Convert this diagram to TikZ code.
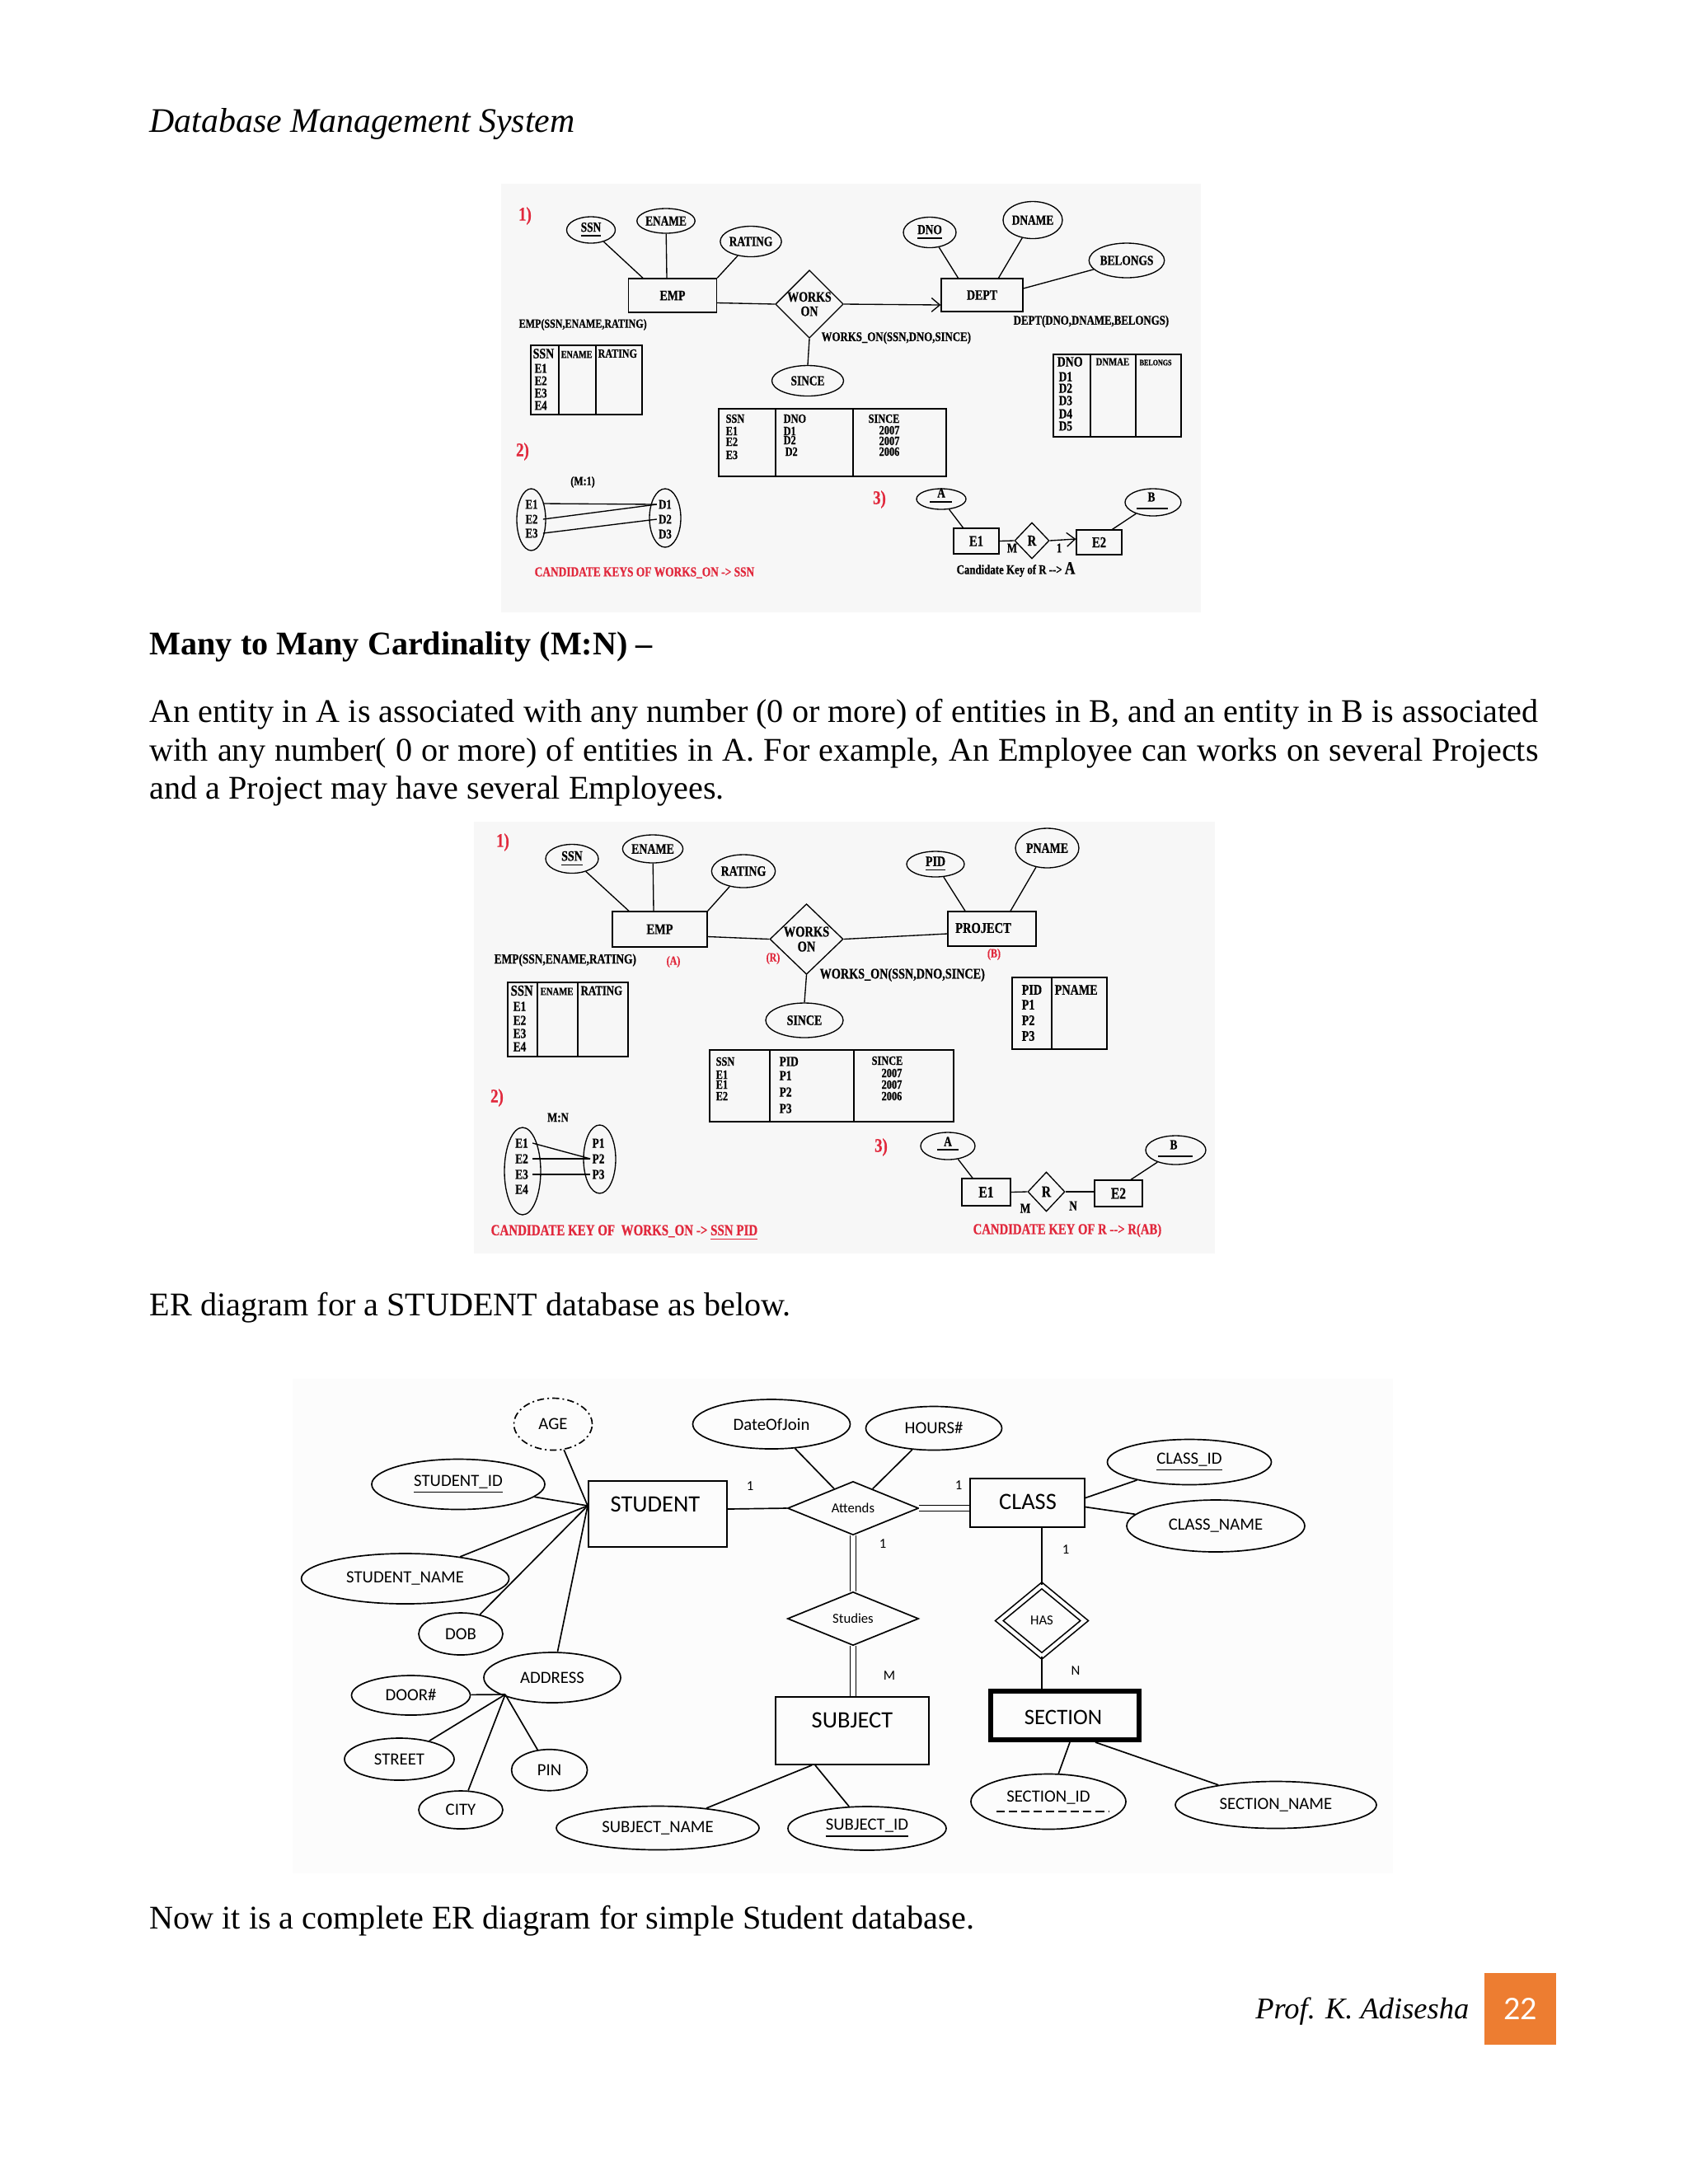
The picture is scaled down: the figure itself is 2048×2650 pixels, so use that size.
\documentclass[tikz,border=0pt]{standalone}
\usepackage{fontspec}
\setmainfont{Liberation Serif}
\newfontfamily\scanf[FakeStretch=0.8,FakeBold=0.6]{Liberation Serif}
\newfontfamily\calf{Carlito}
\usepackage{graphicx}
\usetikzlibrary{shapes.geometric,arrows.meta,calc}
\definecolor{redlab}{RGB}{225,40,60}
\definecolor{orangebox}{RGB}{237,125,49}
\newcommand\pxu{0.298828pt}
\begin{document}
\begin{tikzpicture}[x=0.298828pt, y=-0.298828pt,
 sf/.style={font=\scanf\bfseries\fontsize{#1}{#1}\selectfont},
 cf/.style={font=\calf\fontsize{#1}{#1}\selectfont},
 ell/.style 2 args={ellipse,draw,minimum width=#1*\pxu,minimum height=#2*\pxu,inner sep=0pt},
 box/.style 2 args={rectangle,draw,minimum width=#1*\pxu,minimum height=#2*\pxu,inner sep=0pt},
 dia/.style 2 args={diamond,draw,minimum width=#1*\pxu,minimum height=#2*\pxu,inner sep=0pt},
 ttx/.style={sf=#1,anchor=west,inner sep=0pt},
 lab/.style={sf=#1,inner sep=0.5pt},
 redt/.style={text=redlab},
 num/.style={sf=7,text=redlab,inner sep=0pt},
 barb/.style={-{Straight Barb[length=3pt,width=5pt]}},
 dbl/.style={double,double distance=1.6pt,line width=0.5pt},
 body/.style={anchor=base west,inner sep=0pt,font=\fontsize{12}{14}\selectfont},
 er/.style={line width=0.5pt}
]
\useasboundingbox (0,0) rectangle (2048,2650);
\fill[white] (0,0) rectangle (2048,2650);

% ---------------- page text ----------------
\node[anchor=base west,inner sep=0pt,font=\itshape\fontsize{12.5}{14}\selectfont] (hdr) at (181,160) {Database Management System};
\node[body,font=\bfseries\fontsize{12}{14}\selectfont] (h2) at (181,794) {Many to Many Cardinality (M:N) –};
\node[body] (p1) at (181,876) {\makebox[503.5pt][s]{An entity in A is associated with any number (0 or more) of entities in B, and an entity in B is associated}};
\node[body] (p2) at (181,923) {\makebox[503.5pt][s]{with any number( 0 or more) of entities in A. For example, An Employee can works on several Projects}};
\node[body] (p3) at (181,969) {and a Project may have several Employees.};
\node[body] (p4) at (181,1596) {ER diagram for a STUDENT database as below.};
\node[body] (p5) at (181,2340) {Now it is a complete ER diagram for simple Student database.};
\node[anchor=base east,inner sep=0pt,font=\itshape\fontsize{10.9}{13}\selectfont] (ftr) at (1783,2449) {Prof. K. Adisesha};
\node[fill=orangebox,minimum width=87*\pxu,minimum height=87*\pxu,inner sep=0pt,text=white,font=\calf\fontsize{12}{12}\selectfont] (pg) at (1844.5,2437.5) {22};

% ================= Image 1 (M:1) =================
\fill[black!3] (608,223) rectangle (1457,743);
\node[num] (n1a) at (637,262) {1)};
\node[ell={59}{32},sf=5] (ssnA) at (717,279) {\underline{SSN}};
\node[ell={66}{30},sf=5] (enameA) at (808,268) {ENAME};
\node[ell={66}{37},sf=5] (ratingA) at (911,293) {RATING};
\node[box={107}{41},sf=5.2] (empA) at (816,358.5) {EMP};
\node[dia={82}{78},sf=5.2,align=center] (worksA) at (982,369) {WORKS\\ON};
\node[ell={87}{37},sf=5] (sinceA) at (980,462) {SINCE};
\node[box={99}{40},sf=5.2] (deptA) at (1191.5,358) {DEPT};
\node[ell={64}{37},sf=5] (dnoA) at (1128,282) {\underline{DNO}};
\node[ell={72}{45},sf=5] (dnameA) at (1253,267) {DNAME};
\node[ell={84}{42},sf=5] (belongsA) at (1367,316) {BELONGS};
\draw (ssnA) -- ($(empA.north)+(-36,0)$);
\draw (enameA) -- ($(empA.north)+(-7,0)$);
\draw (ratingA) -- (empA.north east);
\draw ($(empA.east)+(0,9)$) -- (worksA.west);
\draw[barb] (worksA.east) -- ($(deptA.west)+(0,12)$);
\draw (worksA.south) -- (sinceA.north);
\draw (dnoA) -- ($(deptA.north)+(-29,0)$);
\draw (dnameA) -- ($(deptA.north)+(20,0)$);
\draw (belongsA) -- ($(deptA.east)+(0,-8)$);
\node[ttx=4.5] (empschA) at (629,394) {EMP(SSN,ENAME,RATING)};
\node[ttx=4.8] (woschA) at (996,410) {WORKS\_ON(SSN,DNO,SINCE)};
\node[ttx=4.8] (deptschA) at (1229,390) {DEPT(DNO,DNAME,BELONGS)};
% EMP table
\draw (644,419) rectangle (779,503) (678,419) -- (678,503) (723,419) -- (723,503);
\node[ttx=5.2] (ta1) at (646,429) {SSN};
\node[ttx=3.8] (ta2) at (680,430) {ENAME};
\node[ttx=4.5] (ta3) at (725,429) {RATING};
\node[ttx=4.8] (ta4) at (648,447) {E1};
\node[ttx=4.8] (ta5) at (648,462) {E2};
\node[ttx=4.8] (ta6) at (648,477) {E3};
\node[ttx=4.8] (ta7) at (648,492) {E4};
% WORKS_ON table
\draw (872,496) rectangle (1148,578) (941,496) -- (941,578) (1035,496) -- (1035,578);
\node[ttx=4.6] (tb1) at (880,508) {SSN};
\node[ttx=4.6] (tb2) at (880,523) {E1};
\node[ttx=4.6] (tb3) at (880,536) {E2};
\node[ttx=4.6] (tb4) at (880,552) {E3};
\node[ttx=4.6] (tb5) at (950,508) {DNO};
\node[ttx=4.6] (tb6) at (950,523) {D1};
\node[ttx=4.6] (tb7) at (950,534) {D2};
\node[ttx=4.6] (tb8) at (952,548) {D2};
\node[ttx=4.6] (tb9) at (1053,508) {SINCE};
\node[ttx=4.6] (tb10) at (1066,522) {2007};
\node[ttx=4.6] (tb11) at (1066,535) {2007};
\node[ttx=4.6] (tb12) at (1066,548) {2006};
% DEPT table
\draw (1278,430) rectangle (1433,530) (1323,430) -- (1323,530) (1378,430) -- (1378,530);
\node[ttx=5.2] (tc1) at (1282,439) {DNO};
\node[ttx=4] (tc2) at (1329,439) {DNMAE};
\node[ttx=3] (tc3) at (1382,440) {BELONGS};
\node[ttx=5] (tc4) at (1284,457) {D1};
\node[ttx=5] (tc5) at (1284,471) {D2};
\node[ttx=5] (tc6) at (1284,486) {D3};
\node[ttx=5] (tc7) at (1284,502) {D4};
\node[ttx=5] (tc8) at (1284,517) {D5};
% 2)
\node[num] (n2a) at (634,548) {2)};
\node[lab=4.5] (m1) at (707,585) {(M:1)};
\node[ell={35}{75}] (esetA) at (644.5,630.5) {};
\node[ell={38}{71}] (dsetA) at (807,628.5) {};
\node[lab=4.8] (e1s) at (645,612) {E1};
\node[lab=4.8] (e2s) at (645,630) {E2};
\node[lab=4.8] (e3s) at (645,647) {E3};
\node[lab=4.8] (d1s) at (807,612) {D1};
\node[lab=4.8] (d2s) at (807,630) {D2};
\node[lab=4.8] (d3s) at (807,648) {D3};
\draw ($(e1s.east)+(4,-1)$) -- (d1s.west);
\draw ($(e2s.east)+(4,0)$) -- (d1s.west);
\draw ($(e3s.east)+(4,0)$) -- (d2s.west);
\node[ttx=5,redt] (ckA) at (648,695) {CANDIDATE KEYS OF WORKS\_ON {-}> SSN};
% 3)
\node[num] (n3a) at (1067,606) {3)};
\node[ell={60}{25}] (aA) at (1142,605.5) {};
\node[lab=5] (aAt) at (1142,598) {A};
\draw (1128,609) -- (1155,609);
\node[box={55}{31},sf=5.5] (e1A) at (1184.5,656.5) {E1};
\node[dia={42}{44},sf=5.5] (rA) at (1252,656) {R};
\node[box={55}{30},sf=5.5] (e2A) at (1333.5,658) {E2};
\node[ell={68}{33}] (bA) at (1399,609.5) {};
\node[lab=5] (bAt) at (1397,603) {B};
\draw (1379,617) -- (1417,617);
\draw (aA) -- ($(e1A.north)+(-16,0)$);
\draw (bA) -- ($(e2A.north)+(16,0)$);
\draw (e1A.east) -- (rA.west);
\draw[barb] (rA.east) -- ($(e2A.west)+(0,-4)$);
\node[lab=4.8] (mA) at (1228,665) {M};
\node[lab=4.8] (oneA) at (1285,665) {1};
\node[ttx=4.8] (ckA2) at (1160,691) {Candidate Key of R {-}{-}> \fontsize{6.5}{6.5}\selectfont A};

% ================= Image 2 (M:N) =================
\fill[black!3] (575,997) rectangle (1474,1521);
\node[num] (n1b) at (610,1022) {1)};
\node[ell={64}{35},sf=5.2] (ssnB) at (694,1042) {\underline{SSN}};
\node[ell={71}{34},sf=5.2] (enameB) at (792,1030) {ENAME};
\node[ell={71}{40},sf=5.2] (ratingB) at (902,1057) {RATING};
\node[box={115}{43},sf=5.4] (empB) at (800.5,1127.5) {EMP};
\node[dia={89}{85},sf=5.4,align=center] (worksB) at (978.5,1139.5) {WORKS\\ON};
\node[ell={94}{42},sf=5.2] (sinceB) at (976,1238) {SINCE};
\node[box={107}{42}] (projB) at (1203.5,1127) {};
\node[sf=5.4,inner sep=0pt] (projBt) at (1193,1126) {PROJECT};
\node[ell={70}{31},sf=5.2] (pidB) at (1135,1048.5) {\underline{PID}};
\node[ell={77}{48},sf=5.2] (pnameB) at (1270.5,1029) {PNAME};
\draw (ssnB) -- ($(empB.north)+(-37.5,0)$);
\draw (enameB) -- ($(empB.north)+(-7.5,0)$);
\draw (ratingB) -- (empB.north east);
\draw ($(empB.east)+(0,9)$) -- (worksB.west);
\draw (worksB.east) -- ($(projB.west)+(0,6)$);
\draw (worksB.south) -- (sinceB.north);
\draw (pidB) -- ($(projB.north)+(-32.5,0)$);
\draw (pnameB) -- ($(projB.north)+(22.5,0)$);
\node[lab=4.5,redt] (aB) at (817,1167) {(A)};
\node[lab=4.5,redt] (rB) at (938,1163) {(R)};
\node[lab=4.5,redt] (bB) at (1206,1158) {(B)};
\node[ttx=5] (empschB) at (599,1165) {EMP(SSN,ENAME,RATING)};
\node[ttx=5.3] (woschB) at (994,1183) {WORKS\_ON(SSN,DNO,SINCE)};
% EMP table
\draw (616,1192) rectangle (762,1282) (652,1192) -- (652,1282) (701,1192) -- (701,1282);
\node[ttx=5.5] (td1) at (619,1202) {SSN};
\node[ttx=4] (td2) at (655,1203) {ENAME};
\node[ttx=4.8] (td3) at (704,1202) {RATING};
\node[ttx=5] (td4) at (622,1221) {E1};
\node[ttx=5] (td5) at (622,1238) {E2};
\node[ttx=5] (td6) at (622,1254) {E3};
\node[ttx=5] (td7) at (622,1270) {E4};
% PROJECT table
\draw (1228,1186) rectangle (1343,1273) (1276,1186) -- (1276,1273);
\node[ttx=5.3] (te1) at (1239,1201) {PID};
\node[ttx=5.3] (te2) at (1279,1201) {PNAME};
\node[ttx=5.3] (te3) at (1239,1219) {P1};
\node[ttx=5.3] (te4) at (1239,1238) {P2};
\node[ttx=5.3] (te5) at (1239,1257) {P3};
% WORKS_ON table
\draw (861,1274) rectangle (1157,1361) (934,1274) -- (934,1361) (1036,1274) -- (1036,1361);
\node[ttx=4.6] (tf1) at (868,1288) {SSN};
\node[ttx=4.6] (tf2) at (868,1304) {E1};
\node[ttx=4.6] (tf3) at (868,1316) {E1};
\node[ttx=4.6] (tf4) at (868,1330) {E2};
\node[ttx=5] (tf5) at (945,1288) {PID};
\node[ttx=5] (tf6) at (945,1305) {P1};
\node[ttx=5] (tf7) at (945,1325) {P2};
\node[ttx=5] (tf8) at (945,1345) {P3};
\node[ttx=4.6] (tf9) at (1057,1287) {SINCE};
\node[ttx=4.6] (tf10) at (1069,1302) {2007};
\node[ttx=4.6] (tf11) at (1069,1316) {2007};
\node[ttx=4.6] (tf12) at (1069,1330) {2006};
% 2)
\node[num] (n2b) at (603,1332) {2)};
\node[lab=4.8] (mnB) at (677,1356) {M:N};
\node[ell={44}{106}] (esetB) at (634,1421) {};
\node[ell={39}{83}] (psetB) at (727.5,1406.5) {};
\node[lab=5] (e1p) at (633,1387) {E1};
\node[lab=5] (e2p) at (633,1406) {E2};
\node[lab=5] (e3p) at (633,1425) {E3};
\node[lab=5] (e4p) at (633,1443) {E4};
\node[lab=5] (p1p) at (726,1387) {P1};
\node[lab=5] (p2p) at (726,1406) {P2};
\node[lab=5] (p3p) at (726,1425) {P3};
\draw ($(e1p.east)+(3,0)$) -- (p2p.west);
\draw ($(e2p.east)+(3,0)$) -- (p2p.west);
\draw ($(e3p.east)+(3,0)$) -- (p3p.west);
\node[ttx=5.6,redt] (ckB) at (595,1496) {CANDIDATE KEY OF\ \ WORKS\_ON {-}> \underline{SSN PID}};
% 3)
\node[num] (n3b) at (1069,1392) {3)};
\node[ell={66}{33}] (aB2) at (1150,1390.5) {};
\node[lab=5] (aB2t) at (1150,1385) {A};
\draw (1137,1395) -- (1163,1395);
\node[box={59}{33},sf=5.8] (e1B) at (1196.5,1446.5) {E1};
\node[dia={45}{48},sf=5.8] (rB2) at (1269.5,1446) {R};
\node[box={58}{32},sf=5.8] (e2B) at (1357,1448) {E2};
\node[ell={73}{35}] (bB2) at (1426.5,1395.5) {};
\node[lab=5] (bB2t) at (1424,1389) {B};
\draw (1405,1403) -- (1447,1403);
\draw (aB2) -- ($(e1B.north)+(-16.5,0)$);
\draw (bB2) -- ($(e2B.north)+(15,0)$);
\draw (e1B.east) -- (rB2.west);
\draw (rB2.east) -- ($(e2B.west)+(0,-2)$);
\node[lab=5] (mB) at (1244,1466) {M};
\node[lab=5] (nB) at (1302,1463) {N};
\node[ttx=5.5,redt] (ckB2) at (1180,1493) {CANDIDATE KEY OF R {-}{-}> R(AB)};

% ================= Image 3 (STUDENT ER) =================
\fill[black!1] (355,1673) rectangle (1690,2273);
\begin{scope}[er]
\node[ell={95}{63},cf=6.2,dash pattern=on 2.5pt off 1.2pt on 0.6pt off 1.2pt] (age) at (671,1728) {AGE};
\node[ell={210}{61},cf=6.2] (sid) at (556,1801) {\underline{STUDENT\_ID}};
\node[ell={252}{61},cf=6.2] (sname) at (491.6,1915.5) {STUDENT\_NAME};
\node[ell={102}{51},cf=6.2] (dob) at (559,1982.5) {DOB};
\node[box={168}{80}] (stud) at (798,1837) {};
\node[cf=8.5,inner sep=0pt] (studt) at (795,1825) {STUDENT};
\coordinate (hub) at (713,1827);
\node[ell={166}{61},cf=6.2] (addr) at (670,2035.5) {ADDRESS};
\coordinate (ahub) at (613,2056);
\node[ell={144}{48},cf=6.2] (door) at (498.5,2057) {DOOR\#};
\node[ell={133}{51},cf=6.2] (street) at (484.5,2134.5) {STREET};
\node[ell={102}{46},cf=6.2] (city) at (559,2196) {CITY};
\node[ell={92}{50},cf=6.2] (pin) at (666.6,2147.7) {PIN};
\node[ell={191}{60},cf=6.2] (doj) at (936,1728) {DateOfJoin};
\node[ell={165}{53},cf=6.2] (hours) at (1133,1733) {HOURS\#};
\node[dia={159}{65},cf=5] (att) at (1035,1830) {Attends};
\node[dia={159}{65},cf=5] (stu) at (1035,1964) {Studies};
\node[box={139}{59}] (cls) at (1246.5,1823.5) {};
\node[cf=8.5,inner sep=0pt] (clst) at (1247,1822) {CLASS};
\node[ell={199}{55},cf=6.2] (clsid) at (1443,1774) {\underline{CLASS\_ID}};
\node[ell={216}{63},cf=6.2] (clsname) at (1475,1851.5) {CLASS\_NAME};
\node[dia={104}{86},cf=5,double,double distance=1.3pt] (has) at (1264,1966.5) {HAS};
\node[box={182}{61},line width=1.2pt] (sec) at (1292,2081.5) {};
\draw ($(sec.north west)+(5,5)$) rectangle ($(sec.south east)+(-5,-5)$);
\node[cf=8,inner sep=0pt] (sect) at (1290,2084) {SECTION};
\node[box={186}{82}] (subj) at (1034,2100) {};
\node[cf=8.5,inner sep=0pt] (subjt) at (1034,2087) {SUBJECT};
\node[ell={246}{53},cf=6.2] (subjname) at (798,2218) {SUBJECT\_NAME};
\node[ell={192}{53},cf=6.2] (subjid) at (1052,2218.5) {\underline{SUBJECT\_ID}};
\node[ell={188}{67}] (secid) at (1272,2186) {};
\node[cf=6.2,inner sep=0pt] (secidt) at (1272,2181) {SECTION\_ID};
\draw[dashed,dash pattern=on 3pt off 1.5pt] (1209,2198) -- (1345,2198);
\node[ell={244}{57},cf=6.2] (secname) at (1548,2190) {SECTION\_NAME};
% connectors
\draw (age) -- (hub);
\draw (sid) -- (hub);
\draw (sname) -- (hub);
\draw (dob) -- (hub);
\draw (addr) -- (hub);
\draw (door) -- (ahub);
\draw (street) -- (ahub);
\draw (city) -- (ahub);
\draw (pin) -- (ahub);
\draw ($(stud.east)+(0,-6)$) -- (att.west);
\draw (doj) -- (att);
\draw (hours) -- (att);
\draw[dbl] (att.east) -- (att.east -| cls.west);
\draw[dbl] (att.south) -- (stu.north);
\draw[dbl] (stu.south) -- (stu.south |- subj.north);
\draw (has.north |- cls.south) -- (has.north);
\draw (has.south) -- (has.south |- sec.north);
\draw (clsid) -- ($(cls.east)+(0,-6)$);
\draw (clsname) -- ($(cls.east)+(0,5)$);
\draw (subjname) -- ($(subj.south)+(-49,0)$);
\draw (subjid) -- ($(subj.south)+(-45,0)$);
\draw (secid) -- ($(sec.south)+(6,0)$);
\draw (secname) -- ($(sec.south)+(37,0)$);
\node[cf=5,inner sep=0pt] (l1) at (910,1803) {1};
\node[cf=5,inner sep=0pt] (l2) at (1163,1802) {1};
\node[cf=5,inner sep=0pt] (l3) at (1071,1873) {1};
\node[cf=5,inner sep=0pt] (l4) at (1293,1880) {1};
\node[cf=5,inner sep=0pt] (l5) at (1079,2033) {M};
\node[cf=5,inner sep=0pt] (l6) at (1305,2027) {N};
\end{scope}
\end{tikzpicture}
\end{document}
